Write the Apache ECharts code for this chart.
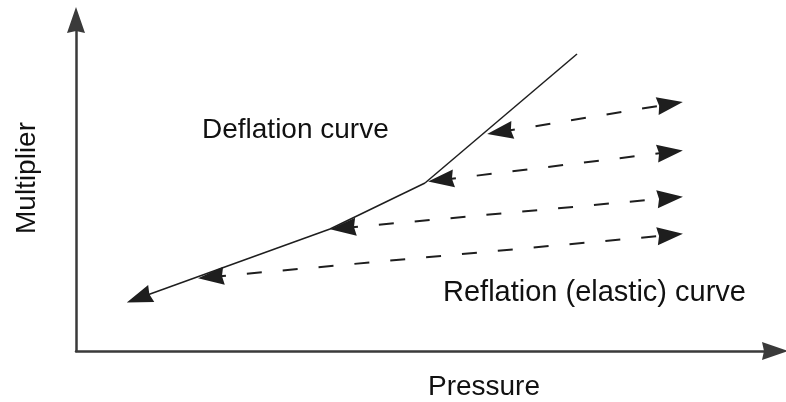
<!DOCTYPE html>
<html>
<head>
<meta charset="utf-8">
<script src="https://cdn.jsdelivr.net/npm/echarts@6/dist/echarts.min.js"></script>
<style>html,body{margin:0;padding:0;background:#fff}#c{width:786px;height:402px}</style>
</head>
<body>
<div id="c"></div>
<script>
// Deflation curve vertices (pressure, multiplier) in chart units
var deflationX = [63, 254, 349, 501];
var deflationY = [53, 122, 168, 297];
// Reflation (elastic) dashed paths: start on curve -> end at right
var reflationStartX = [135, 267, 365, 424];
var reflationStartY = [74, 123, 171, 219];
var reflationEndX = [594, 594, 594, 594];
var reflationEndY = [116, 153, 199, 247];
var labels = {x: 'Pressure', y: 'Multiplier', deflation: 'Deflation curve', reflation: 'Reflation (elastic) curve'};

var arrowPath = 'path://M9,0L18,26L9,24L0,26Z';
var FONT = 'Liberation Sans, Arial, sans-serif';
var chart = echarts.init(document.getElementById('c'));

var deflSegs = [];
for (var i = 0; i < deflationX.length - 1; i++) {
  deflSegs.push({
    coords: [[deflationX[i], deflationY[i]], [deflationX[i + 1], deflationY[i + 1]]],
    symbol: i === 0 ? [arrowPath, 'none'] : ['none', 'none']
  });
}
var reflSegs = [];
for (var j = 0; j < reflationStartX.length; j++) {
  reflSegs.push({coords: [[reflationStartX[j], reflationStartY[j]], [reflationEndX[j], reflationEndY[j]]]});
}

chart.setOption({
  animation: false,
  grid: {left: 76, right: 11, top: 20, bottom: 51},
  xAxis: {
    type: 'value', min: 0, max: 699,
    axisLine: {show: true, lineStyle: {color: '#3a3a3a', width: 2.5}, symbol: ['none', arrowPath], symbolSize: [18, 26]},
    axisTick: {show: false}, axisLabel: {show: false}, splitLine: {show: false}
  },
  yAxis: {
    type: 'value', min: 0, max: 331,
    axisLine: {show: true, lineStyle: {color: '#3a3a3a', width: 2.5}, symbol: ['none', arrowPath], symbolSize: [18, 26]},
    axisTick: {show: false}, axisLabel: {show: false}, splitLine: {show: false}
  },
  series: [
    {
      type: 'lines', coordinateSystem: 'cartesian2d', silent: true,
      symbolSize: [[18, 26], [18, 26]],
      lineStyle: {color: '#1e1e1e', width: 1.5, type: 'solid', opacity: 1},
      data: deflSegs
    },
    {
      type: 'lines', coordinateSystem: 'cartesian2d', silent: true,
      symbol: [arrowPath, arrowPath], symbolSize: [[18, 26], [18, 26]],
      lineStyle: {color: '#1e1e1e', width: 2, type: [15, 21], opacity: 1},
      data: reflSegs
    }
  ],
  graphic: [
    {type: 'text', x: 202, y: 130, style: {text: labels.deflation, font: '28px ' + FONT, fill: '#111', align: 'left', verticalAlign: 'middle'}},
    {type: 'text', x: 443, y: 293, style: {text: labels.reflation, font: '29px ' + FONT, fill: '#111', align: 'left', verticalAlign: 'middle'}},
    {type: 'text', x: 484, y: 387, style: {text: labels.x, font: '28px ' + FONT, fill: '#111', align: 'center', verticalAlign: 'middle'}},
    {type: 'text', x: 27, y: 178, rotation: Math.PI / 2, style: {text: labels.y, font: '28px ' + FONT, fill: '#111', align: 'center', verticalAlign: 'middle'}}
  ]
});
</script>
</body>
</html>
